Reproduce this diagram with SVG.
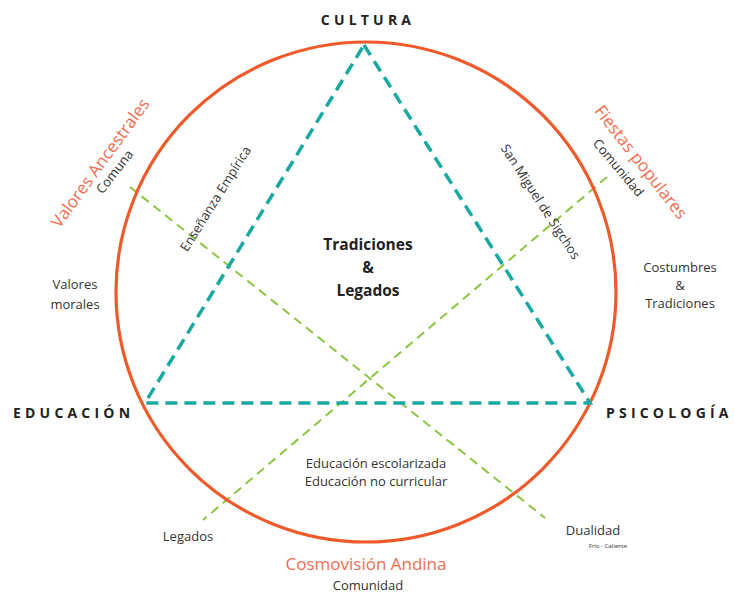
<svg xmlns="http://www.w3.org/2000/svg" width="734" height="594" viewBox="0 0 734 594">
<style>
text{font-family:"Open Sans","Noto Sans","Liberation Sans",sans-serif;fill:#333;}
.t{font-size:13px;}
.hd{font-size:14px;font-weight:bold;letter-spacing:4.2px;fill:#222;}
.or{fill:#f26d4f;font-size:17px;}
.c{text-anchor:middle;}
.tri{fill:none;stroke:#18a9a2;stroke-width:3.5;stroke-dasharray:12 7;}
.gr{stroke:#8cc63f;stroke-width:2;stroke-dasharray:9 6;fill:none;}
</style>
<rect width="734" height="594" fill="#fff"/>
<g id="connectors">
<line class="gr" x1="130" y1="187" x2="545" y2="518"/>
<line class="gr" x1="607" y1="177" x2="203" y2="520"/>
</g>
<g id="circle"><circle cx="366" cy="292" r="250" fill="none" stroke="#f05a2a" stroke-width="3.2"/></g>
<g id="triangle"><polygon class="tri" points="364,45 590,403 145,403"/></g>
<g id="cultura"><text class="hd c" x="368" y="25">CULTURA</text></g>
<g id="educacion"><text class="hd" x="13" y="418">EDUCACIÓN</text></g>
<g id="psicologia"><text class="hd" x="606" y="418">PSICOLOGÍA</text></g>
<g id="center"><text class="c" style="font-size:15.5px;font-weight:bold;fill:#222" x="368"><tspan x="368" y="250">Tradiciones</tspan><tspan x="368" y="273">&amp;</tspan><tspan x="368" y="296">Legados</tspan></text></g>
<g id="valores-ancestrales">
<text class="or c" transform="translate(100,163) rotate(-54)" y="6">Valores Ancestrales</text>
<text class="t c" transform="translate(115,172) rotate(-52)" y="4">Comuna</text>
</g>
<g id="fiestas-populares">
<text class="or c" transform="translate(641,162) rotate(52)" y="6">Fiestas populares</text>
<text class="t c" transform="translate(618,168) rotate(50)" y="4">Comunidad</text>
</g>
<g id="ensenanza"><text class="t c" transform="translate(216,199) rotate(-58)" y="4">Enseñanza Empírica</text></g>
<g id="san-miguel"><text class="t c" transform="translate(540,202) rotate(57)" y="4">San Miguel de Sigchos</text></g>
<g id="valores-morales"><text class="t c"><tspan x="75" y="289">Valores</tspan><tspan x="75" y="309">morales</tspan></text></g>
<g id="costumbres"><text class="t c"><tspan x="680" y="272">Costumbres</tspan><tspan x="680" y="290">&amp;</tspan><tspan x="680" y="308">Tradiciones</tspan></text></g>
<g id="educacion-escolarizada"><text class="t c"><tspan x="376" y="468">Educación escolarizada</tspan><tspan x="376" y="486">Educación no curricular</tspan></text></g>
<g id="legados"><text class="t c" x="188" y="541">Legados</text></g>
<g id="dualidad"><text class="t c" x="593" y="535">Dualidad</text><text class="c" style="font-size:6px" x="608" y="548">Frío - Caliente</text></g>
<g id="cosmovision"><text class="or c" x="366" y="570">Cosmovisión Andina</text><text class="t c" x="368" y="590">Comunidad</text></g>
</svg>
